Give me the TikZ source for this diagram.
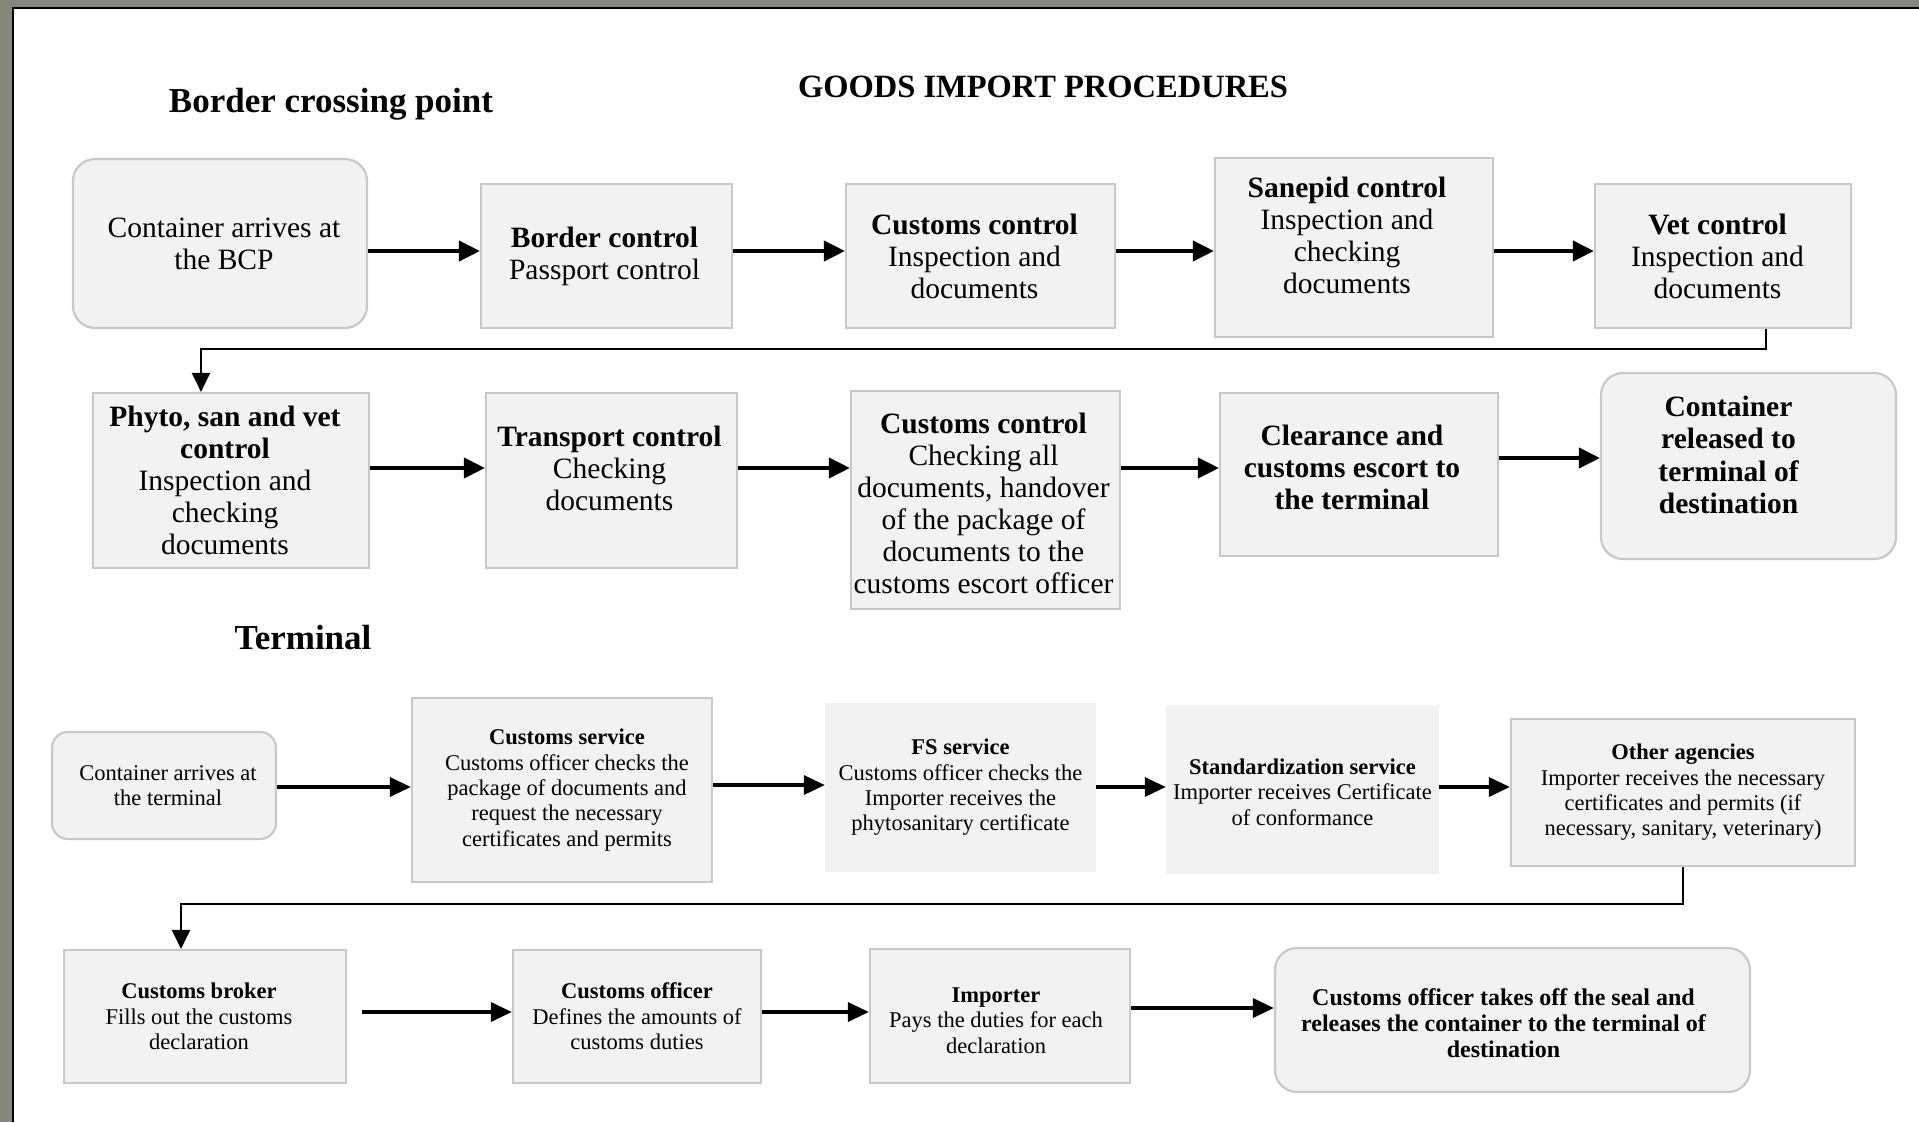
\documentclass[tikz,border=0pt]{standalone}
\usepackage{fontspec}
\setmainfont{Liberation Serif}
\usetikzlibrary{arrows.meta}
\definecolor{boxfill}{HTML}{F2F2F2}
\definecolor{boxline}{HTML}{C8C8C8}
\definecolor{framegrey}{HTML}{85877A}
\begin{document}
\begin{tikzpicture}[x=1pt,y=-1pt,
  box/.style={draw=boxline,line width=2.2,fill=boxfill,inner sep=0pt},
  rbox/.style={box,rounded corners=22},
  plainbox/.style={fill=boxfill,draw=none,inner sep=0pt},
  big/.style={font=\fontsize{29.5}{32}\selectfont,align=center,inner sep=0pt},
  small/.style={font=\fontsize{22.5}{25.4}\selectfont,align=center,inner sep=0pt},
  arr/.style={line width=4,-{Triangle[length=21pt,width=20pt]}},
  arrs/.style={line width=3.5,-{Triangle[length=21pt,width=19pt]}},
  elbow/.style={line width=2.6,-{Triangle[length=19pt,width=18pt]}},
  heading/.style={font=\bfseries\fontsize{35}{40}\selectfont,inner sep=0pt,anchor=base}
]
\useasboundingbox (0,0) rectangle (1919,1122);
\fill[white] (0,0) rectangle (1919,1122);
\fill[framegrey] (0,0) rectangle (1919,7);
\fill[framegrey] (0,0) rectangle (12,1122);
\draw[line width=2] (13,1122) -- (13,7.5) -- (1919,7.5);

% headings
\node[heading] (h1) at (331,112) {Border crossing point};
\node[heading,font=\bfseries\fontsize{32.5}{40}\selectfont] (h2) at (1043,97) {GOODS IMPORT PROCEDURES};
\node[heading] (h3) at (303,649) {Terminal};

% row 1
\node[rbox,minimum width=294,minimum height=169] (A) at (220,243.5) {};
\node[big] (At) at ([xshift=4]A.center) {Container arrives at\\the BCP};
\node[box,minimum width=251,minimum height=144] (B) at (606.5,256) {};
\node[big] (Bt) at ([xshift=-2]B.center) {\textbf{Border control}\\Passport control};
\node[box,minimum width=269,minimum height=144] (C) at (980.5,256) {};
\node[big] (Ct) at ([xshift=-6]C.center) {\textbf{Customs control}\\Inspection and\\documents};
\node[box,minimum width=278,minimum height=179] (D) at (1354,247.5) {};
\node[big] (Dt) at ([xshift=-7,yshift=12.5]D.center) {\textbf{Sanepid control}\\Inspection and\\checking\\documents};
\node[box,minimum width=256,minimum height=144] (E) at (1723,256) {};
\node[big] (Et) at ([xshift=-5.5]E.center) {\textbf{Vet control}\\Inspection and\\documents};

\draw[arr] (A.east |- 0,251) -- (B.west |- 0,251);
\draw[arr] (B.east |- 0,251) -- (C.west |- 0,251);
\draw[arr] (C.east |- 0,251) -- (D.west |- 0,251);
\draw[arr] (D.east |- 0,251) -- (E.west |- 0,251);

% row 2
\node[box,minimum width=276,minimum height=175] (F) at (231,480.5) {};
\node[big] (Ft) at ([xshift=-6]F.center) {\textbf{Phyto, san and vet}\\\textbf{control}\\Inspection and\\checking\\documents};
\node[box,minimum width=251,minimum height=175] (G) at (611.5,480.5) {};
\node[big] (Gt) at ([xshift=-2,yshift=12]G.center) {\textbf{Transport control}\\Checking\\documents};
\node[box,minimum width=269,minimum height=218] (H) at (985.5,500) {};
\node[big] (Ht) at ([xshift=-2,yshift=-3.6]H.center) {\textbf{Customs control}\\Checking all\\documents, handover\\of the package of\\documents to the\\customs escort officer};
\node[box,minimum width=278,minimum height=163] (I) at (1359,474.5) {};
\node[big,font=\bfseries\fontsize{29.5}{32}\selectfont] (It) at ([xshift=-7,yshift=7]I.center) {Clearance and\\customs escort to\\the terminal};
\node[rbox,minimum width=295,minimum height=186] (J) at (1748.5,466) {};
\node[big,font=\bfseries\fontsize{29.5}{32.6}\selectfont] (Jt) at ([xshift=-20,yshift=11]J.center) {Container\\released to\\terminal of\\destination};

\draw[elbow] ([xshift=43]E.south) -- ++(0,20) -| ([xshift=-30]F.north);
\draw[arr] (F.east |- 0,468) -- (G.west |- 0,468);
\draw[arr] (G.east |- 0,468) -- (H.west |- 0,468);
\draw[arr] (H.east |- 0,468) -- (I.west |- 0,468);
\draw[arr] (I.east |- 0,458) -- (J.west |- 0,458);

% row 3
\node[box,rounded corners=16,minimum width=224,minimum height=107] (K) at (164,785.5) {};
\node[small] (Kt) at ([xshift=4]K.center) {Container arrives at\\the terminal};
\node[box,minimum width=300,minimum height=184] (L) at (562,790) {};
\node[small] (Lt) at ([xshift=5]L.center) {\textbf{Customs service}\\Customs officer checks the\\package of documents and\\request the necessary\\certificates and permits};
\node[plainbox,minimum width=271,minimum height=169] (M) at (960.5,787.5) {};
\node[small] (Mt) at (M) {\textbf{FS service}\\Customs officer checks the\\Importer receives the\\phytosanitary certificate};
\node[plainbox,minimum width=273,minimum height=169] (N) at (1302.5,789.5) {};
\node[small] (Nt) at ([yshift=-2.5]N.center) {\textbf{Standardization service}\\Importer receives Certificate\\of conformance};
\node[box,minimum width=344,minimum height=147] (O) at (1683,792.5) {};
\node[small] (Ot) at (O) {\textbf{Other agencies}\\Importer receives the necessary\\certificates and permits (if\\necessary, sanitary, veterinary)};

\draw[arrs] (K.east |- 0,787) -- (L.west |- 0,787);
\draw[arrs] (L.east |- 0,785) -- (M.west |- 0,785);
\draw[arrs] (M.east |- 0,787) -- (N.west |- 0,787);
\draw[arrs] (N.east |- 0,787) -- (O.west |- 0,787);

% row 4
\node[box,minimum width=282,minimum height=133] (P) at (205,1016.5) {};
\node[small] (Pt) at ([xshift=-6]P.center) {\textbf{Customs broker}\\Fills out the customs\\declaration};
\node[box,minimum width=248,minimum height=133] (Q) at (637,1016.5) {};
\node[small] (Qt) at (Q) {\textbf{Customs officer}\\Defines the amounts of\\customs duties};
\node[box,minimum width=260,minimum height=134] (R) at (1000,1016) {};
\node[small] (Rt) at ([xshift=-4,yshift=-4.7]R.center) {\textbf{Importer}\\Pays the duties for each\\declaration};
\node[rbox,minimum width=475,minimum height=144] (S) at (1512.5,1020) {};
\node[small,font=\bfseries\fontsize{24}{25.7}\selectfont] (St) at ([xshift=-9,yshift=-3]S.center) {Customs officer takes off the seal and\\releases the container to the terminal of\\destination};

\draw[elbow] (O.south) -- ++(0,37) -| ([xshift=-24]P.north);
\draw[arrs] ([shift={(15,-4.5)}]P.east) -- (Q.west |- 0,1012);
\draw[arrs] (Q.east |- 0,1012) -- (R.west |- 0,1012);
\draw[arrs] (R.east |- 0,1008) -- (S.west |- 0,1008);
\end{tikzpicture}
\end{document}
